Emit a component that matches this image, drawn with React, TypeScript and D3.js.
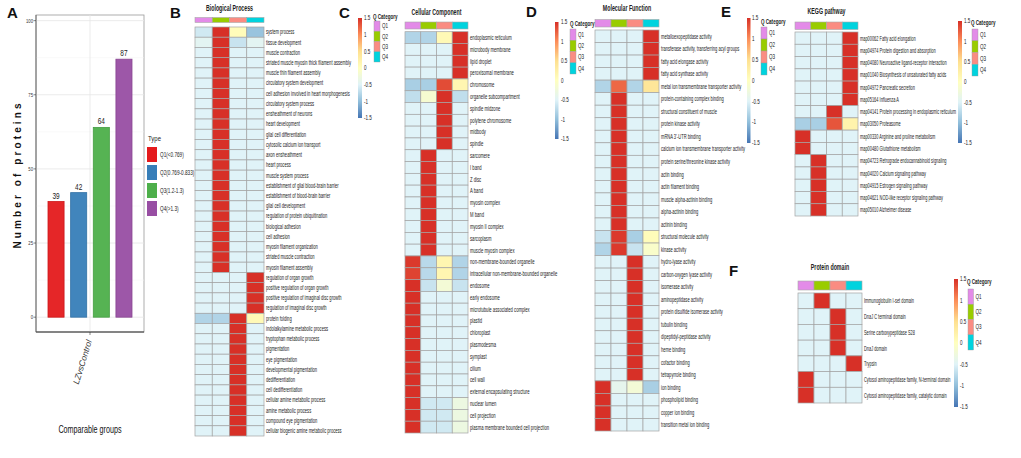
import React from "react";
import * as d3 from "d3";

// ---------------- Panel A data ----------------
const typeNames = ["Q1(<0.769)", "Q2(0.769-0.833)", "Q3(1.2-1.3)", "Q4(>1.3)"];
const typeCounts = [39, 42, 64, 87];
const typeColors = ["#e41a1c", "#377eb8", "#4daf4a", "#984ea3"];
const yTicksA = [0, 25, 50, 75, 100];
const yMinorA = [12.5, 37.5, 62.5, 87.5];
const groupName = "LZvsControl";

// ---------------- Heatmap shared ----------------
const qCats = ["Q1", "Q2", "Q3", "Q4"];
const qColors = ["#e38be8", "#99cc00", "#fa8c82", "#00d3de"];
const heatStops = [-1.5, -1, -0.5, 0, 0.5, 1, 1.5];
const heatColors = ["#4575b4", "#91bfdb", "#e0f3f8", "#ffffbf", "#fee090", "#fc8d59", "#d73027"];
const legendTicks = [1.5, 1, 0.5, 0, -0.5, -1, -1.5];

// ---------------- B: Biological Process ----------------
const bpTerms = [
  "system process", "tissue development", "muscle contraction",
  "striated muscle myosin thick filament assembly", "muscle thin filament assembly",
  "circulatory system development", "cell adhesion involved in heart morphogenesis",
  "circulatory system process", "ensheathment of neurons", "heart development",
  "glial cell differentiation", "cytosolic calcium ion transport", "axon ensheathment",
  "heart process", "muscle system process", "establishment of glial blood-brain barrier",
  "establishment of blood-brain barrier", "glial cell development",
  "regulation of protein ubiquitination", "biological adhesion", "cell adhesion",
  "myosin filament organization", "striated muscle contraction", "myosin filament assembly",
  "regulation of organ growth", "positive regulation of organ growth",
  "positive regulation of imaginal disc growth", "regulation of imaginal disc growth",
  "protein folding", "indolalkylamine metabolic process", "tryptophan metabolic process",
  "pigmentation", "eye pigmentation", "developmental pigmentation", "dedifferentiation",
  "cell dedifferentiation", "cellular amine metabolic process", "amine metabolic process",
  "compound eye pigmentation", "cellular biogenic amine metabolic process",
];
const bpValues = [
  [-0.6, 1.5, 0.05, -0.95],
  [-0.45, 1.5, -0.65, -0.45],
  [-0.5, 1.5, -0.5, -0.5],
  [-0.5, 1.5, -0.5, -0.5],
  [-0.5, 1.5, -0.5, -0.5],
  [-0.5, 1.5, -0.5, -0.5],
  [-0.5, 1.5, -0.5, -0.5],
  [-0.5, 1.5, -0.5, -0.5],
  [-0.5, 1.5, -0.5, -0.5],
  [-0.5, 1.5, -0.5, -0.5],
  [-0.5, 1.5, -0.5, -0.5],
  [-0.5, 1.5, -0.5, -0.5],
  [-0.5, 1.5, -0.5, -0.5],
  [-0.5, 1.5, -0.5, -0.5],
  [-0.5, 1.5, -0.5, -0.5],
  [-0.5, 1.5, -0.5, -0.5],
  [-0.5, 1.5, -0.5, -0.5],
  [-0.5, 1.5, -0.5, -0.5],
  [-0.5, 1.5, -0.5, -0.5],
  [-0.5, 1.5, -0.5, -0.5],
  [-0.5, 1.5, -0.5, -0.5],
  [-0.5, 1.5, -0.5, -0.5],
  [-0.5, 1.5, -0.5, -0.5],
  [-0.5, 1.5, -0.5, -0.5],
  [-0.5, -0.5, -0.5, 1.5],
  [-0.5, -0.5, -0.5, 1.5],
  [-0.5, -0.5, -0.5, 1.5],
  [-0.5, -0.5, -0.5, 1.5],
  [-0.8, -0.8, 1.5, 0.1],
  [-0.5, -0.5, 1.5, -0.5],
  [-0.5, -0.5, 1.5, -0.5],
  [-0.5, -0.5, 1.5, -0.5],
  [-0.5, -0.5, 1.5, -0.5],
  [-0.5, -0.5, 1.5, -0.5],
  [-0.5, -0.5, 1.5, -0.5],
  [-0.5, -0.5, 1.5, -0.5],
  [-0.5, -0.5, 1.5, -0.5],
  [-0.5, -0.5, 1.5, -0.5],
  [-0.5, -0.5, 1.5, -0.5],
  [-0.5, -0.5, 1.5, -0.5],
];

// ---------------- C: Cellular Component ----------------
const ccTerms = [
  "endoplasmic reticulum", "microbody membrane", "lipid droplet", "peroxisomal membrane",
  "chromosome", "organelle subcompartment", "spindle midzone", "polytene chromosome",
  "midbody", "spindle", "sarcomere", "I band", "Z disc", "A band", "myosin complex",
  "M band", "myosin II complex", "sarcoplasm", "muscle myosin complex",
  "non-membrane-bounded organelle", "intracellular non-membrane-bounded organelle",
  "endosome", "early endosome", "microtubule associated complex", "plastid", "chloroplast",
  "plasmodesma", "symplast", "cilium", "cell wall", "external encapsulating structure",
  "nuclear lumen", "cell projection", "plasma membrane bounded cell projection",
];
const ccValues = [
  [-0.8, -0.8, 0.1, 1.5],
  [-0.5, -0.5, -0.5, 1.5],
  [-0.5, -0.5, -0.5, 1.5],
  [-0.5, -0.5, -0.5, 1.5],
  [-0.85, -0.85, 1.35, 0.15],
  [-0.7, -0.15, 1.5, -0.7],
  [-0.5, -0.5, 1.5, -0.5],
  [-0.5, -0.5, 1.5, -0.5],
  [-0.5, -0.5, 1.5, -0.5],
  [-0.5, -0.5, 1.5, -0.5],
  [-0.5, 1.5, -0.5, -0.5],
  [-0.5, 1.5, -0.5, -0.5],
  [-0.5, 1.5, -0.5, -0.5],
  [-0.5, 1.5, -0.5, -0.5],
  [-0.5, 1.5, -0.5, -0.5],
  [-0.5, 1.5, -0.5, -0.5],
  [-0.5, 1.5, -0.5, -0.5],
  [-0.5, 1.5, -0.5, -0.5],
  [-0.5, 1.5, -0.5, -0.5],
  [1.45, -0.75, 0.15, -0.8],
  [1.4, -0.75, 0.15, -0.8],
  [1.5, -0.65, -0.2, -0.65],
  [1.5, -0.5, -0.5, -0.5],
  [1.5, -0.5, -0.5, -0.5],
  [1.5, -0.5, -0.5, -0.5],
  [1.5, -0.5, -0.5, -0.5],
  [1.5, -0.5, -0.5, -0.5],
  [1.5, -0.5, -0.5, -0.5],
  [1.5, -0.5, -0.5, -0.5],
  [1.5, -0.5, -0.5, -0.5],
  [1.5, -0.5, -0.5, -0.5],
  [1.5, -0.6, -0.6, -0.3],
  [1.5, -0.6, -0.6, -0.3],
  [1.5, -0.6, -0.6, -0.3],
];

// ---------------- D: Molecular Function ----------------
const mfTerms = [
  "metalloexopeptidase activity", "transferase activity, transferring acyl groups",
  "fatty acid elongase activity", "fatty acid synthase activity",
  "metal ion transmembrane transporter activity", "protein-containing complex binding",
  "structural constituent of muscle", "protein kinase activity", "mRNA 3'-UTR binding",
  "calcium ion transmembrane transporter activity", "protein serine/threonine kinase activity",
  "actin binding", "actin filament binding", "muscle alpha-actinin binding",
  "alpha-actinin binding", "actinin binding", "structural molecule activity",
  "kinase activity", "hydro-lyase activity", "carbon-oxygen lyase activity",
  "isomerase activity", "aminopeptidase activity", "protein disulfide isomerase activity",
  "tubulin binding", "dipeptidyl-peptidase activity", "heme binding", "cofactor binding",
  "tetrapyrrole binding", "ion binding", "phospholipid binding", "copper ion binding",
  "transition metal ion binding",
];
const mfValues = [
  [-0.5, -0.5, -0.5, 1.5],
  [-0.5, -0.5, -0.5, 1.5],
  [-0.5, -0.5, -0.5, 1.5],
  [-0.5, -0.5, -0.5, 1.5],
  [-0.8, 1.2, -0.8, 0.4],
  [-0.5, 1.5, -0.5, -0.5],
  [-0.5, 1.5, -0.5, -0.5],
  [-0.5, 1.5, -0.5, -0.5],
  [-0.5, 1.5, -0.5, -0.5],
  [-0.5, 1.5, -0.5, -0.5],
  [-0.5, 1.5, -0.5, -0.5],
  [-0.5, 1.5, -0.5, -0.5],
  [-0.5, 1.5, -0.5, -0.5],
  [-0.5, 1.5, -0.5, -0.5],
  [-0.5, 1.5, -0.5, -0.5],
  [-0.5, 1.5, -0.5, -0.5],
  [-0.65, 1.45, -0.85, 0.05],
  [-0.8, 1.45, -0.65, -0.1],
  [-0.5, -0.5, 1.5, -0.5],
  [-0.5, -0.5, 1.5, -0.5],
  [-0.5, -0.5, 1.5, -0.5],
  [-0.5, -0.5, 1.5, -0.5],
  [-0.5, -0.5, 1.5, -0.5],
  [-0.5, -0.5, 1.5, -0.5],
  [-0.5, -0.5, 1.5, -0.5],
  [-0.5, -0.5, 1.5, -0.5],
  [-0.5, -0.5, 1.5, -0.5],
  [-0.5, -0.5, 1.5, -0.5],
  [1.5, -0.4, -0.2, -0.85],
  [1.5, -0.5, -0.5, -0.5],
  [1.5, -0.5, -0.5, -0.5],
  [1.5, -0.5, -0.5, -0.5],
];

// ---------------- E: KEGG pathway ----------------
const keggTerms = [
  "map00062 Fatty acid elongation", "map04974 Protein digestion and absorption",
  "map04080 Neuroactive ligand-receptor interaction",
  "map01040 Biosynthesis of unsaturated fatty acids", "map04972 Pancreatic secretion",
  "map05164 Influenza A", "map04141 Protein processing in endoplasmic reticulum",
  "map03050 Proteasome", "map00330 Arginine and proline metabolism",
  "map00480 Glutathione metabolism", "map04723 Retrograde endocannabinoid signaling",
  "map04020 Calcium signaling pathway", "map04915 Estrogen signaling pathway",
  "map04621 NOD-like receptor signaling pathway", "map05010 Alzheimer disease",
];
const keggValues = [
  [-0.5, -0.5, -0.5, 1.5],
  [-0.5, -0.5, -0.5, 1.5],
  [-0.5, -0.5, -0.5, 1.5],
  [-0.5, -0.5, -0.5, 1.5],
  [-0.5, -0.5, -0.5, 1.5],
  [-0.5, -0.5, -0.5, 1.5],
  [-0.5, -0.5, 1.5, -0.5],
  [-0.85, -0.85, 1.3, 0.2],
  [1.5, -0.5, -0.5, -0.5],
  [1.5, -0.5, -0.5, -0.5],
  [-0.5, 1.5, -0.5, -0.5],
  [-0.5, 1.5, -0.5, -0.5],
  [-0.5, 1.5, -0.5, -0.5],
  [-0.5, 1.5, -0.5, -0.5],
  [-0.5, 1.5, -0.5, -0.5],
];

// ---------------- F: Protein domain ----------------
const domainTerms = [
  "Immunoglobulin I-set domain", "DnaJ C terminal domain", "Serine carboxypeptidase S28",
  "DnaJ domain", "Trypsin", "Cytosol aminopeptidase family, N-terminal domain",
  "Cytosol aminopeptidase family, catalytic domain",
];
const domainValues = [
  [-0.5, 1.5, -0.5, -0.5],
  [-0.5, -0.5, 1.5, -0.5],
  [-0.5, -0.5, 1.5, -0.5],
  [-0.5, -0.5, 1.5, -0.5],
  [-0.5, -0.5, -0.5, 1.5],
  [1.5, -0.5, -0.5, -0.5],
  [1.5, -0.5, -0.5, -0.5],
];

const FONT = "'Liberation Sans', Arial, sans-serif";
const heatColor = d3.scaleLinear<string>().domain(heatStops).range(heatColors).clamp(true);

function NText({ x, y, size, sx = 1, anchor = "start", weight = "normal", rotate = 0, fill = "#222", children }: any) {
  return (
    <text
      transform={`translate(${x},${y}) rotate(${rotate}) scale(${sx},1)`}
      fontSize={size}
      fontFamily={FONT}
      fontWeight={weight}
      textAnchor={anchor}
      fill={fill}
    >
      {children}
    </text>
  );
}

function Heatmap({ title, terms, values, x0, x1, ann0, ann1, top, bottom, titleY, fs, sx }: any) {
  const xs = d3.scaleBand<string>().domain(qCats).range([x0, x1]);
  const ys = d3.scaleBand<number>().domain(d3.range(terms.length)).range([top, bottom]);
  const cx = (x0 + x1) / 2;
  return (
    <g>
      <NText x={cx} y={titleY} size={8.5} sx={0.62} anchor="middle" weight="bold">{title}</NText>
      {qCats.map((q, i) => (
        <rect key={q} x={xs(q)} y={ann0} width={xs.bandwidth()} height={ann1 - ann0}
          fill={qColors[i]} stroke="#a8a8a8" strokeWidth={0.6} />
      ))}
      {values.map((row: number[], r: number) =>
        row.map((v: number, c: number) => (
          <rect key={`${r}-${c}`} x={xs(qCats[c])} y={ys(r)} width={xs.bandwidth()} height={ys.bandwidth()}
            fill={heatColor(v)} stroke="#a3a3a3" strokeWidth={0.7} />
        ))
      )}
      {terms.map((t: string, r: number) => (
        <NText key={t} x={x1 + 2} y={(ys(r) as number) + ys.bandwidth() / 2 + fs * 0.35} size={fs} sx={sx}>{t}</NText>
      ))}
    </g>
  );
}

function Legend({ bx, bw, by0, by1, lx, tx, ty, swx, sww, swy0, swy1 }: any) {
  const yv = d3.scaleLinear().domain([1.5, -1.5]).range([by0, by1]);
  const gid = `g${Math.round(bx)}${Math.round(by0)}`;
  const sy = d3.scaleBand<string>().domain(qCats).range([swy0, swy1]);
  return (
    <g>
      <defs>
        <linearGradient id={gid} x1="0" y1="0" x2="0" y2="1">
          {heatStops.slice().reverse().map((s, i) => (
            <stop key={i} offset={`${(i / (heatStops.length - 1)) * 100}%`} stopColor={heatColor(s)} />
          ))}
        </linearGradient>
      </defs>
      <rect x={bx} y={by0} width={bw} height={by1 - by0} fill={`url(#${gid})`} />
      {legendTicks.map((t) => (
        <NText key={t} x={lx} y={yv(t) + 2.3} size={6.5} sx={0.7}>{String(t)}</NText>
      ))}
      <NText x={tx} y={ty} size={6.5} sx={0.7} weight="bold">Q Category</NText>
      {qCats.map((q, i) => (
        <g key={q}>
          <rect x={swx} y={sy(q)} width={sww} height={sy.bandwidth()} fill={qColors[i]} stroke="#999" strokeWidth={0.4} />
          <NText x={swx + sww + 2} y={(sy(q) as number) + sy.bandwidth() / 2 + 2.3} size={6.5} sx={0.7}>{q}</NText>
        </g>
      ))}
    </g>
  );
}

function PanelA() {
  const x = d3.scaleBand<string>().domain(typeNames).range([48, 132]).paddingInner(0.29).paddingOuter(0);
  const y = d3.scaleLinear().domain([-5, 101.9]).range([332, 15]);
  return (
    <g>
      <rect x={36} y={15} width={108} height={317} fill="#fff" stroke="#9a9a9a" strokeWidth={0.8} />
      {yMinorA.map((t) => (
        <line key={t} x1={36} x2={144} y1={y(t)} y2={y(t)} stroke="#f2f2f2" strokeWidth={0.5} />
      ))}
      {yTicksA.map((t) => (
        <line key={t} x1={36} x2={144} y1={y(t)} y2={y(t)} stroke="#e6e6e6" strokeWidth={0.8} />
      ))}
      <line x1={90} x2={90} y1={15} y2={332} stroke="#e6e6e6" strokeWidth={0.8} />
      {typeNames.map((n, i) => (
        <g key={n}>
          <rect x={x(n)} y={y(typeCounts[i])} width={x.bandwidth()} height={y(0) - y(typeCounts[i])}
            fill={typeColors[i]} fillOpacity={0.95} stroke={d3.color(typeColors[i])!.darker(0.3).toString()} strokeWidth={0.8} />
          <NText x={(x(n) as number) + x.bandwidth() / 2} y={y(typeCounts[i]) - 3} size={9} sx={0.72} anchor="middle">
            {String(typeCounts[i])}
          </NText>
        </g>
      ))}
      <line x1={36} x2={144} y1={332} y2={332} stroke="#333" strokeWidth={1} />
      <line x1={36} x2={36} y1={15} y2={332} stroke="#555" strokeWidth={0.8} />
      {yTicksA.map((t) => (
        <g key={t}>
          <line x1={33.5} x2={36} y1={y(t)} y2={y(t)} stroke="#333" strokeWidth={0.6} />
          <NText x={33} y={y(t) + 2} size={6} sx={0.7} anchor="end" fill="#333">{String(t)}</NText>
        </g>
      ))}
      <line x1={90} x2={90} y1={332} y2={335} stroke="#333" strokeWidth={0.6} />
      <NText x={92} y={341} size={8.5} sx={1} anchor="end" rotate={-73} fill="#333">
        <tspan fontStyle="italic">{groupName}</tspan>
      </NText>
      <text transform="translate(21,176) rotate(-90)" fontSize={10} fontFamily={FONT} fontWeight="bold"
        textAnchor="middle" textLength={145} lengthAdjust="spacing" fill="#111">Number of proteins</text>
      <NText x={90} y={433} size={10} sx={0.72} anchor="middle" fill="#111">Comparable groups</NText>
      <NText x={148} y={141} size={8} sx={0.75}>Type</NText>
      {typeNames.map((n, i) => (
        <g key={n}>
          <rect x={147} y={147 + i * 18} width={10} height={15} fill={typeColors[i]} />
          <NText x={160} y={157 + i * 18} size={6.5} sx={0.72}>{n}</NText>
        </g>
      ))}
    </g>
  );
}

export default function App() {
  return (
    <svg width={1021} height={458} style={{ position: "absolute", left: 0, top: 0, background: "#fff" }}>
      <rect width={1021} height={458} fill="#fff" />
      <PanelA />
      <NText x={7} y={18} size={15} weight="bold" fill="#111">A</NText>
      <NText x={170} y={18} size={15} weight="bold" fill="#111">B</NText>
      <NText x={339} y={18} size={15} weight="bold" fill="#111">C</NText>
      <NText x={526} y={17} size={15} weight="bold" fill="#111">D</NText>
      <NText x={721} y={17} size={15} weight="bold" fill="#111">E</NText>
      <NText x={729} y={276} size={15} weight="bold" fill="#111">F</NText>

      <Heatmap title="Biological Process" terms={bpTerms} values={bpValues}
        x0={195} x1={264} ann0={17.5} ann1={22.5} top={27} bottom={436} titleY={10.5} fs={6.4} sx={0.64} />
      <Heatmap title="Cellular Component" terms={ccTerms} values={ccValues}
        x0={405} x1={468} ann0={22} ann1={29} top={31.7} bottom={433} titleY={15} fs={7} sx={0.6} />
      <Heatmap title="Molecular Function" terms={mfTerms} values={mfValues}
        x0={595} x1={659} ann0={19.5} ann1={27} top={30} bottom={431} titleY={11} fs={7} sx={0.58} />
      <Heatmap title="KEGG pathway" terms={keggTerms} values={keggValues}
        x0={795} x1={858} ann0={22} ann1={29.5} top={32} bottom={216} titleY={14} fs={7} sx={0.56} />
      <Heatmap title="Protein domain" terms={domainTerms} values={domainValues}
        x0={798} x1={862} ann0={281} ann1={290} top={293} bottom={403} titleY={270} fs={7.5} sx={0.52} />

      <Legend bx={358} bw={4} by0={18} by1={118} lx={364} tx={373} ty={19} swx={374} sww={6} swy0={21} swy1={62} />
      <Legend bx={555} bw={3.5} by0={22} by1={139} lx={561} tx={570} ty={26} swx={570} sww={6} swy0={29} swy1={74} />
      <Legend bx={747} bw={3.5} by0={18} by1={143} lx={752} tx={761} ty={24} swx={761} sww={6} swy0={27} swy1={75} />
      <Legend bx={958} bw={4} by0={21} by1={143} lx={964} tx={971} ty={25} swx={972} sww={6} swy0={29} swy1={76} />
      <Legend bx={954} bw={4} by0={279} by1={407} lx={960} tx={967} ty={284} swx={968} sww={5.5} swy0={289} swy1={350} />
    </svg>
  );
}
